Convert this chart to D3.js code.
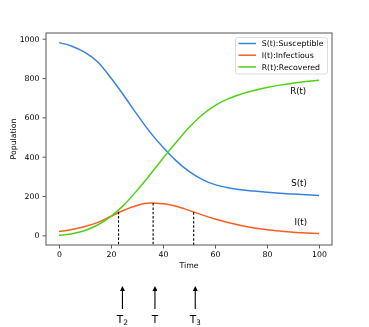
<!DOCTYPE html>
<html>
<head>
<meta charset="utf-8">
<script src="https://cdn.jsdelivr.net/npm/d3@7"></script>
<style>
  body { margin: 0; background: #fff; }
  svg { will-change: transform; }
  text, tspan { font-family: "DejaVu Sans", sans-serif; fill: #000; }
</style>
</head>
<body>
<div id="chart"></div>
<script>
// values
var time = [0, 5, 10, 15, 20, 25, 30, 35, 40, 45, 50, 55, 60, 65, 70, 75, 80, 85, 90, 95, 100]
var susceptible = [980, 962, 930, 880, 800, 710, 615, 525, 448, 380, 325, 285, 258, 242, 232, 225, 219, 214, 210, 206, 203]
var infectious = [20, 30, 45, 66, 97, 128, 152, 164, 161, 148, 127, 104, 83, 65, 50, 38, 29, 22, 16, 12, 9]
var recovered = [0, 8, 25, 54, 97, 155, 228, 308, 392, 472, 548, 612, 660, 694, 718, 737, 752, 764, 774, 782, 789]
var seriesNames = ['S(t):Susceptible', 'I(t):Infectious', 'R(t):Recovered']
var xTicks = [0, 20, 40, 60, 80, 100]
var yTicks = [0, 200, 400, 600, 800, 1000]
// dashed markers: [time, I value]
var markers = [[22.9, 120], [36.2, 164], [51.8, 117]]
// arrows under the axes
var arrowT = [24.4, 36.9, 52.4]
var arrowLabels = [['T', '2'], ['T', ''], ['T', '3']]
// curve labels: [text, time, value]
var curveLabels = [['R(t)', 92, 736], ['S(t)', 92.3, 268], ['I(t)', 93, 68]]

var conf = {
  width: 369, height: 327,
  left: 46, right: 332, top: 33, bottom: 245,
  colors: ['#3784de', '#ff5c1e', '#4fd116'],
  font: 7.8
}

var svg = d3.select('#chart')
  .append('svg')
  .attr('width', conf.width).attr('height', conf.height)

var x = d3.scaleLinear().domain([-5, 105]).range([conf.left, conf.right])
var y = d3.scaleLinear().domain([-49, 1029]).range([conf.bottom, conf.top])

// axes
svg.append('g')
  .attr('transform', 'translate(0,' + conf.bottom + ')')
  .call(d3.axisBottom(x).tickValues(xTicks).tickFormat(d3.format('d')).tickSize(3.5).tickPadding(3))
svg.append('g')
  .attr('transform', 'translate(' + conf.left + ',0)')
  .call(d3.axisLeft(y).tickValues(yTicks).tickFormat(d3.format('d')).tickSize(3.5).tickPadding(3))
svg.selectAll('.domain').remove()
svg.selectAll('.tick line').attr('stroke', '#333').attr('stroke-width', 0.8)
svg.selectAll('.tick text').style('font-size', conf.font + 'px').attr('fill', '#000')

// series lines
var series = [susceptible, infectious, recovered]
var line = d3.line()
  .x((d, i) => x(time[i]))
  .y(d => y(d))
  .curve(d3.curveMonotoneX)

svg.selectAll('.series')
  .data(series)
  .enter()
  .append('path')
  .attr('class', 'series')
  .attr('d', d => line(d))
  .attr('fill', 'none')
  .attr('stroke', (d, i) => conf.colors[i])
  .attr('stroke-width', 1.5)

// dashed verticals from I(t) down to the axis
svg.selectAll('.marker')
  .data(markers)
  .enter()
  .append('line')
  .attr('class', 'marker')
  .attr('x1', d => x(d[0])).attr('x2', d => x(d[0]))
  .attr('y1', d => y(d[1])).attr('y2', conf.bottom)
  .attr('stroke', '#000')
  .attr('stroke-width', 1.1)
  .attr('stroke-dasharray', '2.5,1.8')

// curve labels
svg.selectAll('.clbl')
  .data(curveLabels)
  .enter()
  .append('text')
  .attr('class', 'clbl')
  .attr('x', d => x(d[1]))
  .attr('y', d => y(d[2]))
  .attr('text-anchor', 'middle')
  .attr('dy', '0.35em')
  .style('font-size', '8.6px')
  .text(d => d[0])

// frame
svg.append('rect')
  .attr('x', conf.left).attr('y', conf.top)
  .attr('width', conf.right - conf.left).attr('height', conf.bottom - conf.top)
  .attr('fill', 'none').attr('stroke', '#555').attr('stroke-width', 1)

// axis labels
svg.append('text')
  .attr('x', (conf.left + conf.right) / 2).attr('y', 268)
  .attr('text-anchor', 'middle')
  .style('font-size', conf.font + 'px')
  .text('Time')
svg.append('text')
  .attr('transform', 'translate(16,' + ((conf.top + conf.bottom) / 2) + ') rotate(-90)')
  .attr('text-anchor', 'middle')
  .style('font-size', conf.font + 'px')
  .text('Population')

// legend
var lg = svg.append('g').attr('transform', 'translate(235.5,37.5)')
lg.append('rect')
  .attr('width', 92).attr('height', 36.5).attr('rx', 2)
  .attr('fill', '#fff').attr('fill-opacity', 0.8)
  .attr('stroke', '#d6d6d6').attr('stroke-width', 0.8)
var items = lg.selectAll('.item')
  .data(seriesNames)
  .enter()
  .append('g')
  .attr('class', 'item')
  .attr('transform', (d, i) => 'translate(0,' + (6 + i * 11.7) + ')')
items.append('line')
  .attr('x1', 3).attr('x2', 20.5)
  .attr('stroke', (d, i) => conf.colors[i])
  .attr('stroke-width', 1.5)
items.append('text')
  .attr('x', 26.2).attr('dy', '0.35em')
  .style('font-size', conf.font + 'px')
  .text(d => d)

// arrows below the chart
var defs = svg.append('defs')
defs.append('marker')
  .attr('id', 'head')
  .attr('viewBox', '0 0 10 10')
  .attr('refX', 0).attr('refY', 5)
  .attr('markerWidth', 7).attr('markerHeight', 5)
  .attr('markerUnits', 'userSpaceOnUse')
  .attr('orient', 'auto')
  .append('path')
  .attr('d', 'M0,0 L10,5 L0,10 z')
  .attr('fill', '#000')

svg.selectAll('.arrow')
  .data(arrowT)
  .enter()
  .append('line')
  .attr('class', 'arrow')
  .attr('x1', d => x(d)).attr('x2', d => x(d))
  .attr('y1', conf.bottom + 64).attr('y2', conf.bottom + 46)
  .attr('stroke', '#000')
  .attr('stroke-width', 1.1)
  .attr('marker-end', 'url(#head)')

var alb = svg.selectAll('.albl')
  .data(arrowLabels)
  .enter()
  .append('text')
  .attr('class', 'albl')
  .attr('x', (d, i) => x(arrowT[i]))
  .attr('y', 322.5)
  .attr('text-anchor', 'middle')
  .style('font-size', '10.5px')
alb.append('tspan').text(d => d[0])
alb.append('tspan')
  .attr('dy', 2.5)
  .style('font-size', '7.5px')
  .text(d => d[1])
</script>
</body>
</html>
